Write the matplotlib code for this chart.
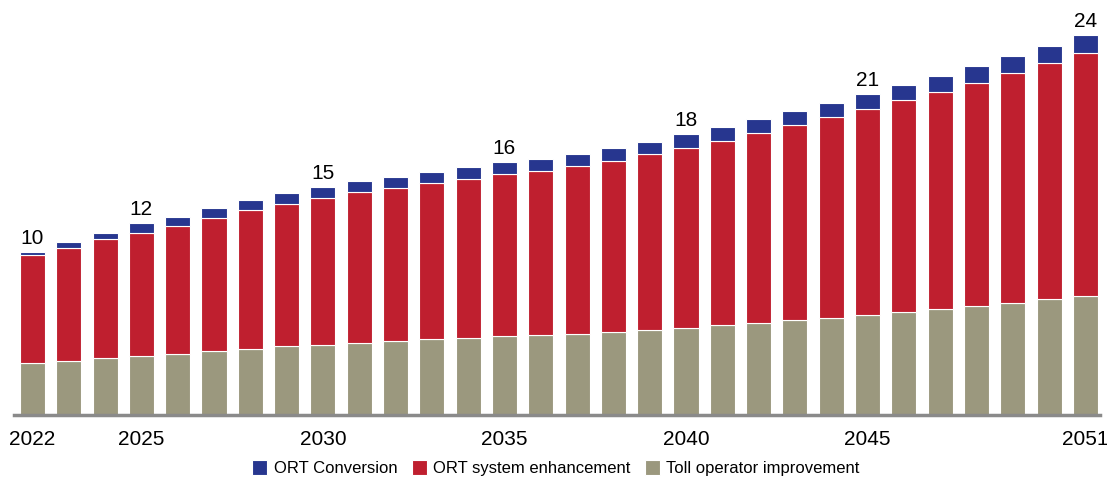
import numpy as np
import matplotlib.pyplot as plt

plt.rcParams['font.family'] = ['Liberation Sans', 'DejaVu Sans']

years = list(range(2022, 2052))

# values (bottom to top)
toll_operator = [3.27, 3.43, 3.60, 3.73, 3.85, 4.02, 4.17, 4.36, 4.44, 4.57,
                 4.67, 4.78, 4.86, 4.97, 5.03, 5.12, 5.22, 5.39, 5.50, 5.69,
                 5.83, 6.00, 6.15, 6.32, 6.51, 6.72, 6.89, 7.09, 7.31, 7.54]
ort_enhancement = [6.86, 7.12, 7.52, 7.77, 8.09, 8.42, 8.80, 8.99, 9.25, 9.50,
                   9.68, 9.87, 10.06, 10.25, 10.38, 10.59, 10.84, 11.08, 11.39, 11.64,
                   11.98, 12.32, 12.66, 13.01, 13.37, 13.69, 14.11, 14.51, 14.91, 15.33]
ort_conversion = [0.15, 0.38, 0.38, 0.61, 0.57, 0.63, 0.61, 0.66, 0.69, 0.69,
                  0.69, 0.69, 0.76, 0.76, 0.78, 0.78, 0.80, 0.80, 0.87, 0.88,
                  0.88, 0.88, 0.92, 0.95, 0.95, 1.01, 1.04, 1.07, 1.11, 1.14]

label_years = [2022, 2025, 2030, 2035, 2040, 2045, 2051]
label_text = ["10", "12", "15", "16", "18", "21", "24"]
tick_years = [2022, 2025, 2030, 2035, 2040, 2045, 2051]

c_blue = "#27368F"
c_red = "#BF1F2F"
c_grey = "#9B987E"

fig = plt.figure(figsize=(11.07, 4.78), dpi=100)
ax = fig.add_axes([0.0126, 0.1318, 0.981, 0.8682])

x = np.arange(len(years))
g = np.array(toll_operator)
r = np.array(ort_enhancement)
b = np.array(ort_conversion)
w = 0.69
kw = dict(width=w, edgecolor="white", linewidth=0.8)
ax.bar(x, g, color=c_grey, label="Toll operator improvement", **kw)
ax.bar(x, r, bottom=g, color=c_red, label="ORT system enhancement", **kw)
ax.bar(x, b, bottom=g + r, color=c_blue, label="ORT Conversion", **kw)

total = g + r + b
for yr, t in zip(label_years, label_text):
    i = years.index(yr)
    ax.annotate(t, (x[i], total[i]), xytext=(0, 6), textcoords="offset points",
                ha="center", va="baseline", fontsize=15)

ax.set_xlim(-0.51, 29.40)
ax.set_ylim(0, 26.22)
ax.set_xticks([years.index(t) for t in tick_years])
ax.set_xticklabels([str(t) for t in tick_years], fontsize=15)
ax.tick_params(axis="x", length=0, pad=10.5)
ax.set_yticks([])
for s in ["top", "left", "right"]:
    ax.spines[s].set_visible(False)
ax.spines["bottom"].set_color("#8a8a8a")
ax.spines["bottom"].set_linewidth(2.5)

h, l = ax.get_legend_handles_labels()
fig.legend(h[::-1], l[::-1], loc="center", bbox_to_anchor=(556 / 1107, 1 - 468 / 478),
           ncol=3, frameon=False, fontsize=12, handlelength=0.9, handleheight=1.0,
           handletextpad=0.4, columnspacing=0.85)

plt.savefig("out.png", dpi=100)
